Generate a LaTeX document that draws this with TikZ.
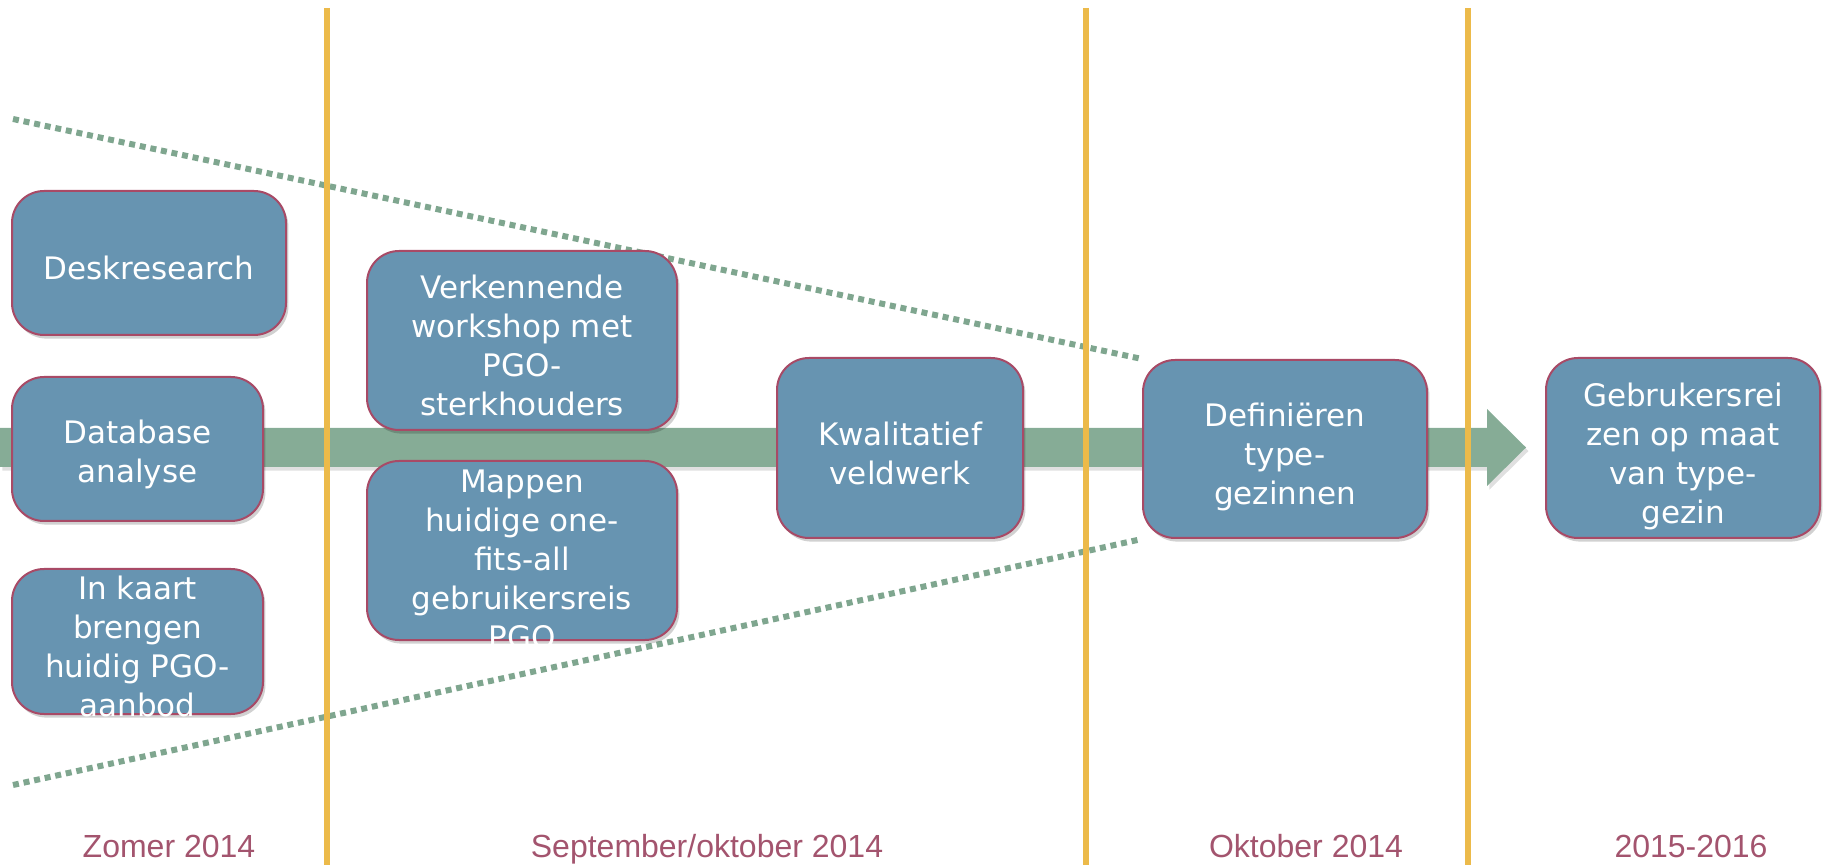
\documentclass[tikz,border=0pt]{standalone}
\usepackage{fontspec}
\setmainfont{DejaVu Sans}
\newfontfamily\periodefont{Liberation Sans}
\usetikzlibrary{shadows}

\definecolor{stapblauw}{RGB}{103,148,177}
\definecolor{staprand}{RGB}{168,74,102}
\definecolor{pijlgroen}{RGB}{134,172,150}
\definecolor{trechtergroen}{RGB}{127,166,143}
\definecolor{scheidingoranje}{RGB}{236,186,74}
\definecolor{periodekleur}{RGB}{163,84,110}

\pgfdeclarelayer{achter}
\pgfsetlayers{achter,main}

\tikzset{
  stap/.style={draw=staprand, line width=1pt, fill=stapblauw, rounded corners=16pt, inner sep=0pt,
    drop shadow={shadow xshift=1.2pt, shadow yshift=-1.8pt, fill=black, opacity=0.18}},
  stekst/.style={text=white, align=center, inner sep=0pt, yshift=-2.5pt,
    font=\fontsize{15.5pt}{19.5pt}\selectfont},
  periode/.style={text=periodekleur, anchor=base, font=\periodefont\fontsize{16pt}{19pt}\selectfont},
  scheiding/.style={scheidingoranje, line width=3pt},
  trechter/.style={trechtergroen, line width=3pt, dash pattern=on 3pt off 2.4pt}
}

\begin{document}
\begin{tikzpicture}[x=0.5pt, y=-0.5pt]
  \useasboundingbox (0,0) rectangle (1825,865);

  % Zomer 2014
  \node[stap, minimum width=137pt, minimum height=72pt, label={[stekst]center:Deskresearch}] (desk) at (149,263) {};
  \node[stap, minimum width=125.5pt, minimum height=72pt, label={[stekst]center:{Database\\analyse}}] (db) at (137.5,449) {};
  \node[stap, minimum width=125.5pt, minimum height=72.5pt, label={[stekst]center:{In kaart\\brengen\\huidig PGO-\\aanbod}}] (kaart) at (137.5,641.5) {};

  % September/oktober 2014
  \node[stap, minimum width=155pt, minimum height=89.5pt, label={[stekst]center:{Verkennende\\workshop met\\PGO-\\sterkhouders}}] (verk) at (522,340.5) {};
  \node[stap, minimum width=155pt, minimum height=89.5pt, label={[stekst, yshift=-2pt]center:{Mappen\\huidige one-\\fits-all\\gebruikersreis\\PGO}}] (mappen) at (522,550.5) {};
  \node[stap, minimum width=123pt, minimum height=90pt, label={[stekst]center:{Kwalitatief\\veldwerk}}] (kwal) at (900,448) {};

  % Oktober 2014 en 2015-2016
  \node[stap, minimum width=142pt, minimum height=89pt, label={[stekst, yshift=-1.5pt]center:{Definiëren\\type-\\gezinnen}}] (def) at (1285,449) {};
  \node[stap, minimum width=137pt, minimum height=90pt, label={[stekst, yshift=-1.5pt]center:{Gebrukersrei\\zen op maat\\van type-\\gezin}}] (geb) at (1683,448) {};

  % periodes onderaan
  \node[periode] (zomer) at (169,857) {Zomer 2014};
  \node[periode] (sepokt) at (707,857) {September/oktober 2014};
  \node[periode] (okt) at (1306,857) {Oktober 2014};
  \node[periode] (later) at (1691,857) {2015-2016};

  \begin{pgfonlayer}{achter}
    % brede pijl
    \fill[pijlgroen, drop shadow={shadow xshift=1.2pt, shadow yshift=-1.8pt, fill=black, opacity=0.12}]
      (0,428) -- (1487,428) -- (1487,409) -- (1526,447.5) -- (1487,486) -- (1487,467) -- (0,467) -- cycle;
    % trechter
    \coordinate (trechterboven) at (13,119);
    \coordinate (trechteronder) at (13,785);
    \draw[trechter] (trechterboven) -- (def.north west);
    \draw[trechter] (trechteronder) -- (def.south west);
    % scheidingslijnen
    \foreach \x in {327,1086,1468}
      \draw[scheiding] (\x,8) -- (\x,865);
  \end{pgfonlayer}
\end{tikzpicture}
\end{document}
